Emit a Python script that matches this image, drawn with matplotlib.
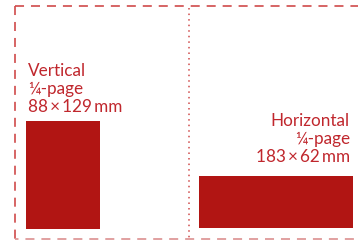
import matplotlib
matplotlib.use("Agg")
import matplotlib.pyplot as plt
from matplotlib.patches import Rectangle

# Data (mm)
label_lines = [["Vertical", "¼-page", "88\u2009\u00d7\u2009129\u2009mm"],
               ["Horizontal", "¼-page", "183\u2009\u00d7\u200962\u2009mm"]]
widths = [88, 183]
heights = [129, 62]

plt.rcParams['font.family'] = ['Lato', 'DejaVu Sans']
plt.rcParams['lines.scale_dashes'] = False

W, H = 358, 240
s = 0.84  # px per mm
fig = plt.figure(figsize=(W / 100, H / 100), dpi=100)
ax = fig.add_axes([0, 0, 1, 1])
ax.set_xlim(0, W / s)
ax.set_ylim(0, H / s)
ax.axis('off')

def px(x):
    return x / s

def py(y):
    return (H - y) / s

bar_color = '#b11513'
text_color = '#c0272d'
line_color = '#cf4a4a'

# Bars
lefts = [px(26), px(199)]
bottom = [py(229), py(228)]
for l, b, w, h in zip(lefts, bottom, widths, heights):
    ax.add_patch(Rectangle((l, b), w, h, color=bar_color, lw=0))

# Dashed border
dash = (0, (6.5, 5))
ax.plot([px(14.5), px(370)], [py(5.5), py(5.5)], color=line_color, lw=1.2, ls=dash)
ax.plot([px(14.5), px(14.5)], [py(5.5), py(239)], color=line_color, lw=1.2, ls=dash)
ax.plot([px(14.5), px(370)], [py(239), py(239)], color='#dc9090', lw=1.2, ls=(4, (6.5, 5)))
# Dotted middle divider
ax.plot([px(188.5), px(188.5)], [py(8), py(239)], color=line_color, lw=1.1, ls=(0, (1.1, 2.9)))

# Labels
fs = 12.3
step = 18
for i, line in enumerate(label_lines[0]):
    ax.text(px(28), py(76 + i * step), line, color=text_color, fontsize=fs,
            ha='left', va='baseline')
for i, line in enumerate(label_lines[1]):
    ax.text(px(350), py(126 + i * step), line, color=text_color, fontsize=fs,
            ha='right', va='baseline')

fig.savefig('out.png', dpi=100)
